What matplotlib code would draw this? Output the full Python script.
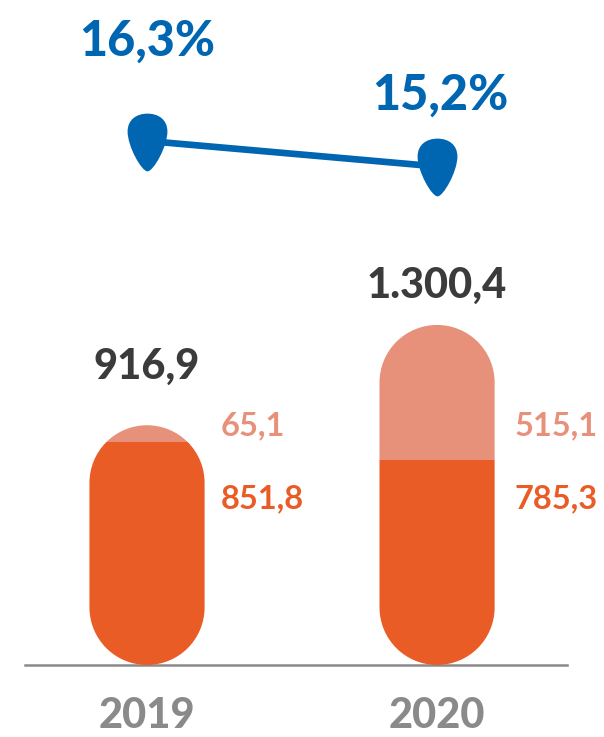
import numpy as np
import matplotlib
matplotlib.use('Agg')
import matplotlib.pyplot as plt
from matplotlib.path import Path
from matplotlib.patches import PathPatch

plt.rcParams['font.family'] = ['Lato', 'DejaVu Sans']

years = ['2019', '2020']
base_vals = [851.8, 785.3]
top_vals = [65.1, 515.1]
totals = [916.9, 1300.4]
pct_vals = [16.3, 15.2]

base_labels = ['851,8', '785,3']
top_labels = ['65,1', '515,1']
total_labels = ['916,9', '1.300,4']
pct_labels = ['16,3%', '15,2%']

DARK_ORANGE = '#EA5C26'
LIGHT_ORANGE = '#E8917A'
BLUE = '#0066B2'
GREY = '#8A8A8A'
DARK = '#3B3B3B'

W, H = 604, 737
fig = plt.figure(figsize=(W / 100, H / 100), dpi=100)

# bar axes: baseline at y=665px, from x=25 to x=567
ax = fig.add_axes([25 / W, 72 / H, 542 / W, 665 / H])
ax.set_xlim(-0.4207, 1.448)
ax.set_ylim(0, 2543)
ax.axis('off')

x = np.arange(len(years))
bar_w = 0.397

# data units of y per data unit of x for an equal pixel distance
bbox = ax.get_position()
px_x = bbox.width * W / np.ptp(ax.get_xlim())
px_y = bbox.height * H / np.ptp(ax.get_ylim())
aspect = px_x / px_y


def pill_path(xc, width, height):
    r = width / 2
    h = height / aspect
    bot = Path.arc(180, 360)
    top = Path.arc(0, 180)
    vb = bot.vertices * r + [xc, r]
    vt = top.vertices * r + [xc, h - r]
    verts = np.vstack([vb, vt, vb[:1]])
    codes = np.concatenate([bot.codes, top.codes, [Path.CLOSEPOLY]])
    codes[len(bot.codes)] = Path.LINETO
    verts[:, 1] *= aspect
    return Path(verts, codes)


for i in range(len(years)):
    clip = PathPatch(pill_path(x[i], bar_w, totals[i]), transform=ax.transData,
                     facecolor='none', edgecolor='none')
    ax.add_patch(clip)
    b1 = ax.bar(x[i], base_vals[i], bar_w, color=DARK_ORANGE, linewidth=0)
    b2 = ax.bar(x[i], top_vals[i], bar_w, bottom=base_vals[i], color=LIGHT_ORANGE, linewidth=0)
    for rect in list(b1) + list(b2):
        rect.set_clip_path(clip)

ax.axhline(0, color=GREY, lw=1.8, clip_on=False, zorder=0)

# totals above the pills
total_offsets = [42, 28]
for i in range(len(years)):
    ax.annotate(total_labels[i], (x[i], totals[i]), xytext=(0, total_offsets[i]),
                textcoords='offset points', ha='center', va='center',
                fontsize=30, fontweight='black', color=DARK)

# segment labels to the right of each pill
label_dx = [0.055, 0.07]
for i in range(len(years)):
    ax.text(x[i] + bar_w / 2 + label_dx[i], 914, top_labels[i], ha='left', va='center',
            fontsize=23.5, fontweight='bold', color=LIGHT_ORANGE)
    ax.text(x[i] + bar_w / 2 + label_dx[i], 635, base_labels[i], ha='left', va='center',
            fontsize=23.5, fontweight='bold', color=DARK_ORANGE)

# year labels
for i in range(len(years)):
    ax.annotate(years[i], (x[i], 0), xytext=(0, -37), textcoords='offset points',
                ha='center', va='center', fontsize=30, fontweight='black', color=GREY,
                annotation_clip=False)

# margin line on top
lax = fig.add_axes([25 / W, 0, 542 / W, 1])
lax.set_xlim(ax.get_xlim())
lax.set_ylim(-9.41, 22.38)
lax.axis('off')
lax.patch.set_alpha(0)

drop = Path([(0, -30), (6, -30), (20, -5), (20, 10),
             (20, 22), (11, 28), (0, 28),
             (-11, 28), (-20, 22), (-20, 10),
             (-20, -5), (-6, -30), (0, -30), (0, -30)],
            [Path.MOVETO] + [Path.CURVE4] * 12 + [Path.CLOSEPOLY])

lax.plot(x, pct_vals, color=BLUE, lw=4.8, solid_capstyle='butt', zorder=2)
lax.plot(x, pct_vals, linestyle='none', marker=drop, markersize=43,
         color=BLUE, markeredgewidth=0, zorder=3)

pct_offsets = [72, 51]
pct_dx = [0, 2]
for i in range(len(years)):
    lax.annotate(pct_labels[i], (x[i], pct_vals[i]), xytext=(pct_dx[i], pct_offsets[i]),
                 textcoords='offset points', ha='center', va='center',
                 fontsize=35, fontweight='black', color=BLUE)

fig.savefig('out.png', dpi=100)
